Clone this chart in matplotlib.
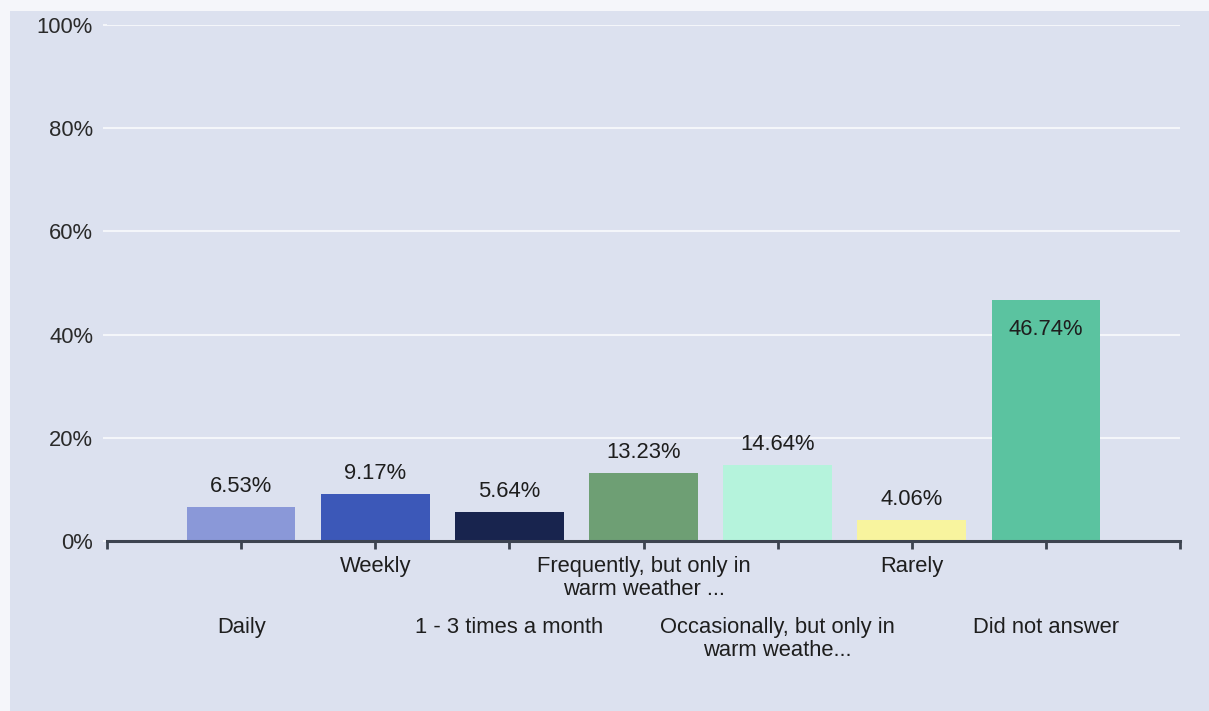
import matplotlib
matplotlib.use("Agg")
import matplotlib.pyplot as plt
from matplotlib.patches import Rectangle

categories = ["Daily", "Weekly", "1 - 3 times a month",
              "Frequently, but only in\nwarm weather ...",
              "Occasionally, but only in\nwarm weathe...",
              "Rarely", "Did not answer"]
values = [6.53, 9.17, 5.64, 13.23, 14.64, 4.06, 46.74]
value_labels = ["6.53%", "9.17%", "5.64%", "13.23%", "14.64%", "4.06%", "46.74%"]
colors = ["#8A98D8", "#3C58B8", "#18244E", "#6E9F74", "#B5F3DC", "#F8F49E", "#5BC3A0"]
yticks = [0, 20, 40, 60, 80, 100]
ytick_labels = ["0%", "20%", "40%", "60%", "80%", "100%"]

plt.rcParams['font.family'] = ['Liberation Sans', 'DejaVu Sans']
W, H = 1209, 711
fig = plt.figure(figsize=(W / 100, H / 100), dpi=100, facecolor="#F5F6FA")
fig.patches.append(Rectangle((10 / W, 0), 1 - 10 / W, 1 - 11 / H,
                             transform=fig.transFigure, facecolor="#DCE1EF",
                             edgecolor="none", zorder=-5))

ax = fig.add_axes([107 / W, 1 - 541 / H, (1180 - 107) / W, (541 - 25) / H])
ax.set_zorder(2)
ax.set_facecolor("none")

xs = list(range(1, len(values) + 1))
bars = ax.bar(xs, values, width=0.81, color=colors, zorder=3)

ax.set_xlim(0, 8)
ax.set_ylim(0, 100)

# gridlines
ax.set_yticks(yticks)
ax.set_yticklabels(ytick_labels, fontsize=15.8, color="#2A2A2A")
ax.yaxis.grid(True, color="#F4F6FA", linewidth=1.5, zorder=1)
ax.set_axisbelow(True)
ax.tick_params(axis="y", length=3, width=1.5, color="#F4F6FA", pad=7)

# x axis
ax.set_xticks(range(0, 9))
ax.set_xticklabels([""] * 9)
ax.tick_params(axis="x", length=6, width=2, color="#3D4450", direction="out")
for side in ["top", "right", "left"]:
    ax.spines[side].set_visible(False)
ax.spines["bottom"].set_color("#3D4450")
ax.spines["bottom"].set_linewidth(2.2)
ax.spines["bottom"].set_zorder(4)

# category labels in two staggered rows
for i, (x, lab) in enumerate(zip(xs, categories)):
    off = -76 if i % 2 == 0 else -15
    ax.annotate(lab, xy=(x, 0), xycoords=("data", "axes fraction"),
                xytext=(0, off), textcoords="offset pixels",
                ha="center", va="top", fontsize=15.8, color="#1E1E1E",
                linespacing=1.12, annotation_clip=False)

# value labels
for x, v, lab in zip(xs, values, value_labels):
    if v > 40:
        off = -35
    else:
        off = 15
    ax.annotate(lab, xy=(x, v), xytext=(0, off), textcoords="offset pixels",
                ha="center", va="baseline", fontsize=15.8, color="#1E1E1E",
                zorder=5)

fig.savefig("out.png", dpi=100, facecolor=fig.get_facecolor())
